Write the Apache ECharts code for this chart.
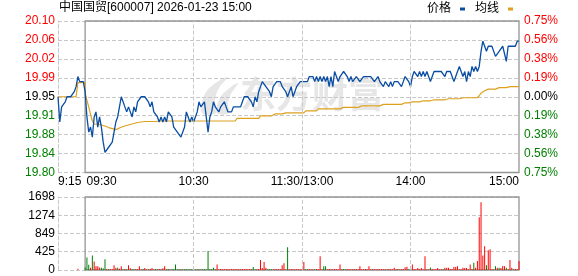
<!DOCTYPE html>
<html><head><meta charset="utf-8">
<script src="https://cdn.jsdelivr.net/npm/echarts@6.0.0/dist/echarts.min.js"></script>
<style>html,body{margin:0;padding:0;background:#fff}#c{width:578px;height:276px}</style>
</head><body><div id="c"></div>
<script>
// ---------- data ----------
const titleText = '中国国贸[600007] 2026-01-23 15:00';
const seriesNames = ['价格', '均线'];
const watermarkText = '东方财富';
const priceMin = 19.80, priceMax = 20.10, priceStep = 0.0375;
const priceTickLabels = ['19.80','19.84','19.88','19.91','19.95','19.99','20.02','20.06','20.10'];
const pctTickLabels = ['0.75%','0.56%','0.38%','0.19%','0.00%','0.19%','0.38%','0.56%','0.75%'];
const volMax = 1698, volStep = 424.5;
const volTickLabels = ['0','425','849','1274','1698'];
const timeMax = 255, timeStep = 15, preMinutes = 15;
const timeTickValues = [0, 15, 75, 135, 195, 255];
const timeTickLabels = ['9:15', '09:30', '10:30', '11:30/13:00', '14:00', '15:00'];

// 9:15 - 9:30 (call auction)
const prePrice = [19.95,19.90,19.93,19.93,19.94,19.95,19.95,19.95,19.95,19.96,19.97,19.99,19.98,19.98,19.98,19.98];
const preAvg   = [19.95,19.95,19.95,19.95,19.95,19.95,19.95,19.95,19.95,19.95,19.95,19.978,19.978,19.978,19.978,19.978];
const preVol   = [0,0,0,0,0,0,0,0,0,0,0,30,0,0,0,0];
const preDir   = [1,1,1,1,1,1,1,1,1,1,1,1,1,1,1,1];

// 9:30 - 15:00, one value per minute
const tradePrice = [
19.96,19.91,19.88,19.89,19.87,19.91,19.92,19.89,19.91,19.89,
19.86,19.84,19.84,19.85,19.85,19.86,19.88,19.90,19.91,19.93,
19.95,19.94,19.93,19.92,19.93,19.92,19.91,19.93,19.92,19.94,
19.94,19.95,19.95,19.95,19.95,19.94,19.93,19.94,19.92,19.92,
19.91,19.90,19.91,19.90,19.91,19.90,19.92,19.92,19.91,19.89,
19.89,19.88,19.88,19.87,19.87,19.89,19.92,19.91,19.90,19.91,
19.90,19.91,19.92,19.94,19.93,19.93,19.94,19.91,19.88,19.91,
19.92,19.94,19.93,19.93,19.92,19.93,19.93,19.94,19.93,19.92,
19.92,19.92,19.93,19.93,19.93,19.93,19.93,19.94,19.95,19.95,
19.95,19.95,19.94,19.93,19.95,19.94,19.96,19.97,19.98,19.98,
19.97,19.97,19.96,19.95,19.97,19.97,19.98,19.98,19.98,19.97,
19.97,19.96,19.95,19.95,19.97,19.95,19.96,19.97,19.97,19.98,
19.98,19.98,19.98,19.98,19.99,19.99,19.99,19.98,19.99,19.98,
19.99,19.98,19.99,19.98,19.99,19.97,19.99,19.97,20.00,19.99,
19.98,19.99,19.99,20.00,20.00,19.99,19.98,19.99,19.98,19.98,
19.99,19.99,19.98,19.98,19.99,19.99,19.99,19.99,19.99,19.99,
19.98,19.98,19.99,19.98,19.98,19.97,19.98,19.98,19.97,19.98,
19.97,19.98,19.98,19.98,19.98,19.97,19.98,19.99,19.99,19.98,
19.97,19.99,20.00,20.00,19.99,20.00,19.99,20.00,19.99,20.00,
19.99,19.98,19.99,20.00,20.00,20.00,20.00,20.00,20.00,19.99,
20.00,20.00,20.00,19.99,19.98,19.99,20.00,20.01,20.00,19.99,
20.00,19.98,20.00,19.99,20.01,20.00,20.01,20.00,20.01,20.04,
20.06,20.05,20.04,20.05,20.05,20.05,20.05,20.03,20.03,20.04,
20.04,20.05,20.05,20.02,20.05,20.05,20.05,20.05,20.05,20.06,
20.06];

const tradeAvg = [
19.957,19.943,19.930,19.915,19.902,19.896,19.895,19.895,19.895,19.894,
19.893,19.892,19.890,19.889,19.888,19.887,19.886,19.885,19.886,19.888,
19.890,19.891,19.892,19.893,19.894,19.895,19.896,19.897,19.898,19.899,
19.899,19.900,19.901,19.901,19.901,19.901,19.901,19.901,19.901,19.901,
19.901,19.902,19.902,19.902,19.902,19.902,19.902,19.902,19.902,19.902,
19.902,19.902,19.902,19.902,19.902,19.902,19.902,19.902,19.902,19.902,
19.902,19.902,19.902,19.902,19.902,19.902,19.902,19.902,19.902,19.902,
19.902,19.902,19.902,19.902,19.902,19.902,19.902,19.902,19.902,19.902,
19.902,19.902,19.902,19.902,19.907,19.907,19.907,19.907,19.907,19.907,
19.907,19.907,19.907,19.907,19.907,19.907,19.907,19.912,19.912,19.912,
19.912,19.912,19.912,19.912,19.912,19.916,19.916,19.916,19.916,19.916,
19.916,19.918,19.918,19.918,19.918,19.918,19.918,19.918,19.918,19.918,
19.918,19.918,19.922,19.922,19.922,19.922,19.922,19.922,19.922,19.926,
19.926,19.926,19.926,19.926,19.926,19.926,19.926,19.926,19.926,19.926,
19.926,19.926,19.926,19.929,19.929,19.929,19.929,19.929,19.929,19.929,
19.929,19.929,19.932,19.932,19.932,19.932,19.932,19.932,19.932,19.932,
19.932,19.932,19.932,19.932,19.932,19.935,19.935,19.935,19.935,19.935,
19.935,19.935,19.935,19.935,19.935,19.935,19.938,19.938,19.938,19.938,
19.938,19.940,19.940,19.940,19.940,19.940,19.940,19.942,19.942,19.942,
19.942,19.942,19.944,19.944,19.944,19.944,19.944,19.944,19.944,19.944,
19.944,19.946,19.946,19.946,19.946,19.946,19.946,19.946,19.948,19.948,
19.948,19.948,19.948,19.948,19.948,19.948,19.948,19.948,19.952,19.957,
19.960,19.962,19.964,19.965,19.965,19.965,19.965,19.965,19.968,19.968,
19.968,19.968,19.968,19.968,19.970,19.970,19.970,19.970,19.970,19.970,
19.970];

const tradeVol = [
60,290,125,50,335,200,85,85,60,55,
40,250,25,20,25,20,110,50,50,30,
85,20,25,20,110,40,20,20,25,20,
85,20,25,45,20,20,25,45,20,20,
20,25,20,40,85,20,25,20,20,20,
130,20,18,20,18,20,18,20,15,20,
18,20,18,20,18,20,15,20,440,20,
18,50,20,130,20,22,18,20,25,18,
20,22,18,20,25,20,18,22,20,18,
20,22,18,70,20,20,22,233,45,186,
50,20,20,20,20,18,20,22,20,110,
155,20,530,20,22,18,20,22,20,18,
20,186,20,18,22,20,18,20,22,20,
320,20,85,85,20,22,18,20,22,20,
18,130,20,22,18,20,22,20,18,20,
22,20,85,18,20,22,20,85,20,18,
22,20,18,20,22,20,18,20,22,20,
18,55,20,22,18,20,22,65,75,20,
20,130,22,18,45,20,45,20,320,18,
20,60,22,18,20,45,20,22,18,55,
55,55,20,22,70,70,85,20,18,55,
45,45,20,130,22,170,55,210,1226,1575,
340,550,110,460,480,15,15,85,55,55,
45,95,85,55,20,233,55,20,22,18,
210];

// 1 = up (red), -1 = down (green)
const tradeDir = [
-1,-1,-1,1,-1,1,1,1,1,-1,
-1,-1,1,-1,1,1,1,1,-1,1,
1,-1,1,-1,1,1,-1,-1,1,1,
1,1,-1,1,1,-1,1,1,1,-1,
-1,1,1,1,1,-1,-1,1,-1,-1,
-1,-1,-1,1,-1,-1,-1,-1,-1,-1,
-1,-1,-1,1,-1,-1,-1,-1,-1,-1,
-1,-1,-1,1,1,1,1,1,1,1,
1,1,1,1,1,1,1,1,1,1,
1,1,1,-1,-1,1,1,1,1,1,
1,-1,-1,-1,1,1,1,1,1,1,
1,1,-1,1,1,1,1,1,1,1,
1,1,-1,-1,1,1,1,-1,1,1,
1,1,-1,-1,1,1,1,1,1,1,
1,1,1,-1,-1,1,1,1,1,1,
1,1,1,1,1,1,1,1,1,1,
1,1,1,1,1,1,1,1,1,1,
1,1,1,1,-1,1,1,1,1,-1,
1,1,1,1,1,1,1,1,1,1,
1,-1,1,1,1,1,1,1,-1,1,
1,1,1,1,1,1,1,1,1,1,
1,1,1,1,1,-1,1,1,1,1,
1,1,-1,1,1,1,1,-1,1,-1,
1,1,1,-1,1,1,1,-1,1,1,
1];

// ---------- styles ----------
const FONT = '"Liberation Sans", Arial, "Noto Sans CJK SC", sans-serif';
const RED = '#ff0000', GREEN = '#008000', BLUE = '#0a4ea3', GOLD = '#dea11e';
const DASH = '#c8c8c8', BOX = '#959595', WM = '#e6e6e6';

const lvl = v => Math.round((parseFloat(v) - priceMin) / priceStep);
const lvlColor = i => i > 4 ? RED : (i < 4 ? GREEN : '#000');

const priceData = prePrice.map((v, i) => [i, v]).concat(tradePrice.map((v, i) => [preMinutes + i, v]));
const avgData = preAvg.map((v, i) => [i, v]).concat(tradeAvg.map((v, i) => [preMinutes + i, v]));
const volData = preVol.map((v, i) => ({ value: [i, v], itemStyle: { color: preDir[i] > 0 ? RED : GREEN } }))
  .concat(tradeVol.map((v, i) => ({ value: [preMinutes + i, v], itemStyle: { color: tradeDir[i] > 0 ? RED : GREEN } })));

const innerLines = timeTickValues.slice(2, 5).map(v => ({ xAxis: v }));
const boxArea = [[{ xAxis: preMinutes }, { xAxis: timeMax }]];

function xAxisCfg(gi, show) {
  return {
    type: 'value', gridIndex: gi, min: 0, max: timeMax, interval: timeStep,
    axisLine: { show: false }, axisTick: { show: false }, splitLine: { show: false },
    axisLabel: {
      show: show, margin: 3, fontSize: 12, fontFamily: FONT, color: '#000',
      showMinLabel: true, showMaxLabel: true, alignMinLabel: 'left', alignMaxLabel: 'right',
      formatter: v => {
        const k = timeTickValues.indexOf(Math.round(v));
        if (k < 0) return '';
        return k === 1 ? '{p|' + timeTickLabels[k] + '}' : timeTickLabels[k];
      },
      rich: { p: { padding: [0, 0, 0, 33], fontSize: 12, fontFamily: FONT, color: '#000' } }
    }
  };
}

const chart = echarts.init(document.getElementById('c'), null, { renderer: 'canvas' });
chart.setOption({
  animation: false,
  backgroundColor: '#fff',
  title: {
    text: titleText, left: 59, top: 2, padding: 0,
    textStyle: { fontSize: 12, fontWeight: 'normal', color: '#000', fontFamily: FONT }
  },
  legend: {
    data: seriesNames, right: 65, top: 3, padding: 0, align: 'right',
    icon: 'rect', itemWidth: 5, itemHeight: 3, itemGap: 10, selectedMode: false,
    textStyle: { fontSize: 12, color: '#000', fontFamily: FONT, padding: [0, 4, 0, 0] }
  },
  graphic: [
    { type: 'polygon', z: -1, silent: true,
      shape: { points: [[202, 113], [204, 96], [214, 84], [228, 77], [219, 88], [215, 100], [216, 113]], smooth: 0.4 },
      style: { fill: WM } },
    { type: 'polygon', z: -1, silent: true,
      shape: { points: [[217, 113], [219, 100], [227, 90], [238, 83], [231, 94], [228, 104], [229, 113]], smooth: 0.4 },
      style: { fill: WM } },
    { type: 'text', left: 240, top: 76, z: -1, silent: true,
      style: { text: watermarkText, fontSize: 36, fontWeight: 'bold', fill: WM,
               fontFamily: '"Noto Sans CJK SC", sans-serif' } }
  ],
  grid: [
    { left: 58, right: 59, top: 21, bottom: 103.5 },
    { left: 58, right: 59, top: 197, bottom: 6 }
  ],
  xAxis: [xAxisCfg(0, true), xAxisCfg(1, false)],
  yAxis: [
    {
      type: 'value', gridIndex: 0, position: 'left', min: priceMin, max: priceMax, interval: priceStep,
      axisLine: { show: true, lineStyle: { color: DASH, type: 'dashed' } }, axisTick: { show: false },
      splitLine: { show: true, lineStyle: { color: DASH, type: 'dashed' } },
      axisLabel: { margin: 3, fontSize: 12, fontFamily: FONT,
        formatter: v => priceTickLabels[lvl(v)], color: v => lvlColor(lvl(v)) }
    },
    {
      type: 'value', gridIndex: 0, position: 'right', min: priceMin, max: priceMax, interval: priceStep,
      axisLine: { show: false }, axisTick: { show: false }, splitLine: { show: false },
      axisLabel: { margin: 5, fontSize: 12, fontFamily: FONT,
        formatter: v => pctTickLabels[lvl(v)], color: v => lvlColor(lvl(v)) }
    },
    {
      type: 'value', gridIndex: 1, position: 'left', min: 0, max: volMax, interval: volStep,
      axisLine: { show: true, lineStyle: { color: DASH, type: 'dashed' } }, axisTick: { show: false },
      splitLine: { show: true, lineStyle: { color: DASH, type: 'dashed' } },
      axisLabel: { margin: 3, fontSize: 12, fontFamily: FONT, color: '#000',
        formatter: v => volTickLabels[Math.round(parseFloat(v) / volStep)] }
    }
  ],
  series: [
    {
      name: seriesNames[1], type: 'line', xAxisIndex: 0, yAxisIndex: 0, data: avgData,
      color: GOLD, symbol: 'none', lineStyle: { width: 1.2, color: GOLD }, z: 3,
      markLine: { silent: true, symbol: ['none', 'none'], label: { show: false },
        lineStyle: { color: DASH, type: 'dashed', width: 1 }, data: innerLines },
      markArea: { silent: true, itemStyle: { color: 'rgba(0,0,0,0)', borderColor: BOX, borderWidth: 1.3 },
        data: boxArea }
    },
    {
      name: seriesNames[0], type: 'line', xAxisIndex: 0, yAxisIndex: 0, data: priceData,
      color: BLUE, symbol: 'none', lineStyle: { width: 1.3, color: BLUE }, z: 4
    },
    {
      name: 'vol', type: 'bar', xAxisIndex: 1, yAxisIndex: 2, data: volData, barWidth: 1,
      markLine: { silent: true, symbol: ['none', 'none'], label: { show: false },
        lineStyle: { color: DASH, type: 'dashed', width: 1 }, data: innerLines },
      markArea: { silent: true, itemStyle: { color: 'rgba(0,0,0,0)', borderColor: BOX, borderWidth: 1.3 },
        data: boxArea }
    }
  ]
});
</script>
</body></html>
